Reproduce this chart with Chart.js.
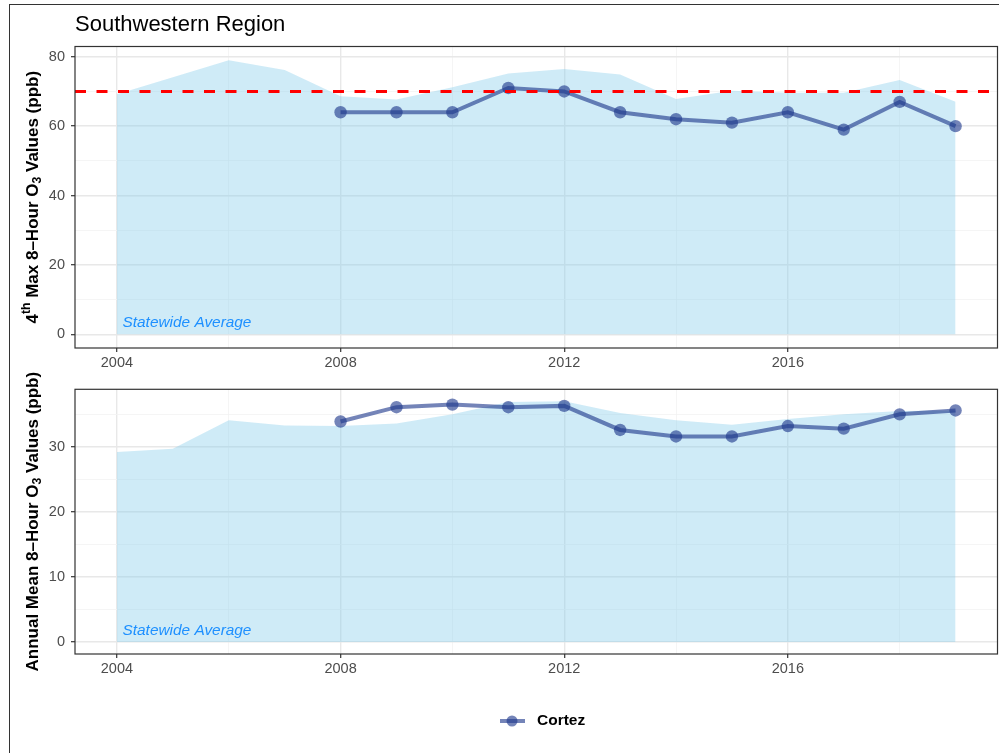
<!DOCTYPE html>
<html>
<head>
<meta charset="utf-8">
<script src="https://cdn.jsdelivr.net/npm/chart.js@4/dist/chart.umd.min.js"></script>
<style>
  html, body { margin: 0; padding: 0; background: #ffffff; overflow: hidden; }
  body { width: 999px; height: 753px; position: relative; }
  #frame { position: absolute; left: 9px; top: 4px; width: 1200px; height: 1000px; border: 1px solid #333333; box-sizing: border-box; }
  canvas { position: absolute; left: 0; }
  #top { top: 0; }
  #bottom { top: 370px; }
</style>
</head>
<body>
<div id="frame"></div>
<canvas id="top" width="999" height="375"></canvas>
<canvas id="bottom" width="999" height="383"></canvas>
<script>
// ---- data ----
const years = [2004, 2005, 2006, 2007, 2008, 2009, 2010, 2011, 2012, 2013, 2014, 2015, 2016, 2017, 2018, 2019];
const stateMax4th = [69.2, 74.1, 79.0, 76.2, 68.6, 67.7, 71.2, 75.2, 76.5, 74.9, 67.8, 70.2, 69.6, 69.6, 73.3, 67.0];
const stateAnnualMean = [29.2, 29.7, 34.1, 33.3, 33.2, 33.6, 35.0, 36.9, 37.0, 35.2, 34.1, 33.4, 34.3, 35.0, 35.5, 35.6];

const cortezYears = [2008, 2009, 2010, 2011, 2012, 2013, 2014, 2015, 2016, 2017, 2018, 2019];
const cortezMax4th = [64, 64, 64, 71, 70, 64, 62, 61, 64, 59, 67, 60];
const cortezAnnualMean = [33.9, 36.1, 36.5, 36.1, 36.3, 32.6, 31.6, 31.6, 33.2, 32.8, 35.0, 35.6];

const naaqsStandard = 70;
const xGridYears = [2004, 2006, 2008, 2010, 2012, 2014, 2016, 2018];
const topGridValues = [0, 10, 20, 30, 40, 50, 60, 70, 80];
const bottomGridValues = [0, 5, 10, 15, 20, 25, 30, 35];

const regionTitle = 'Southwestern Region';
const siteName = 'Cortez';
const annotationText = 'Statewide Average';

// ---- styling ----
const FONT = '"Liberation Sans", Arial, Helvetica, sans-serif';
Chart.defaults.font.family = FONT;
const FILL = 'rgba(135, 206, 235, 0.4)';
const SITE = 'rgba(31, 56, 140, 0.62)';
const AXIS_TEXT = '#4d4d4d';

// ggplot-style 5% expansion
const xMin = years[0] - 0.05 * (years[years.length - 1] - years[0]);
const xMax = years[years.length - 1] + 0.05 * (years[years.length - 1] - years[0]);
function yRange(vals) {
  const hi = Math.max(...vals), lo = 0;
  const pad = 0.05 * (hi - lo);
  return [lo - pad, hi + pad];
}

function pts(xs, ys) { return xs.map((x, i) => ({ x: x, y: ys[i] })); }

// ===============================================
// PLUGIN: panel border, titles, annotation, legend
// ===============================================
const panelPlugin = {
  id: 'panelDecor',
  afterDraw(chart, args, o) {
    const { ctx, chartArea: a, scales } = chart;
    ctx.save();

    // panel border
    ctx.strokeStyle = '#333333';
    ctx.lineWidth = 1.2;
    ctx.strokeRect(a.left, a.top, a.right - a.left, a.bottom - a.top);

    // statewide label
    ctx.fillStyle = '#1e90ff';
    ctx.font = 'italic 15.4px ' + FONT;
    ctx.textAlign = 'left';
    ctx.textBaseline = 'middle';
    ctx.fillText(annotationText, scales.x.getPixelForValue(o.annX), scales.y.getPixelForValue(o.annY));

    // main title
    if (o.title) {
      ctx.fillStyle = '#000000';
      ctx.font = '22px ' + FONT;
      ctx.textBaseline = 'alphabetic';
      ctx.fillText(o.title, a.left, o.titleBaseline);
    }

    // rotated y-axis title with sub/superscripts
    const size = 17;
    const parts = o.yTitle;
    const fontFor = p => 'bold ' + (p.s ? size * 0.72 : size) + 'px ' + FONT;
    let total = 0;
    parts.forEach(p => { ctx.font = fontFor(p); total += ctx.measureText(p.t).width; });
    ctx.translate(o.yTitleX, (a.top + a.bottom) / 2);
    ctx.rotate(-Math.PI / 2);
    ctx.fillStyle = '#000000';
    ctx.textBaseline = 'alphabetic';
    let cx = -total / 2;
    parts.forEach(p => {
      ctx.font = fontFor(p);
      const dy = p.s === 'sup' ? -size * 0.42 : p.s === 'sub' ? size * 0.22 : 0;
      ctx.fillText(p.t, cx, dy);
      cx += ctx.measureText(p.t).width;
    });
    ctx.setTransform(1, 0, 0, 1, 0, 0);

    // legend
    if (o.legendY) {
      const lx = o.legendX, ly = o.legendY;
      ctx.strokeStyle = SITE;
      ctx.lineWidth = 4;
      ctx.beginPath();
      ctx.moveTo(lx - 12, ly);
      ctx.lineTo(lx + 13, ly);
      ctx.stroke();
      ctx.fillStyle = SITE;
      ctx.beginPath();
      ctx.arc(lx, ly, 5.5, 0, Math.PI * 2);
      ctx.fill();
      ctx.fillStyle = '#000000';
      ctx.font = 'bold 15.5px ' + FONT;
      ctx.textBaseline = 'middle';
      ctx.fillText(siteName, lx + 25, ly);
    }
    ctx.restore();
  }
};

// ===============================================
// HELPER: build one panel
// ===============================================
function makePanel(canvasId, cfg) {
  const [yMin, yMax] = cfg.yRange;
  const datasets = [];
  if (cfg.hline !== undefined) {
    datasets.push({
      data: [{ x: xMin, y: cfg.hline }, { x: xMax, y: cfg.hline }],
      borderColor: '#ff0000', borderWidth: 3, borderDash: [11, 10.5],
      pointRadius: 0, fill: false, order: 0
    });
  }
  datasets.push({
    label: siteName,
    data: pts(cortezYears, cfg.site),
    borderColor: SITE, backgroundColor: SITE,
    borderWidth: 4, pointRadius: 6.2, pointBorderWidth: 0,
    fill: false, order: 1
  });
  datasets.push({
    data: pts(years, cfg.state),
    borderWidth: 0, borderColor: 'rgba(0,0,0,0)', backgroundColor: FILL,
    pointRadius: 0, fill: 'origin', order: 2
  });

  return new Chart(document.getElementById(canvasId).getContext('2d'), {
    type: 'line',
    data: { datasets },
    plugins: [panelPlugin],
    options: {
      responsive: false,
      animation: false,
      events: [],
      layout: { autoPadding: false, padding: { top: cfg.areaTop, right: 1.5, left: 0, bottom: 0 } },
      plugins: {
        legend: { display: false },
        tooltip: { enabled: false },
        panelDecor: cfg.decor
      },
      scales: {
        x: {
          type: 'linear', min: xMin, max: xMax,
          afterBuildTicks: s => { s.ticks = xGridYears.map(v => ({ value: v })); },
          afterFit: s => { s.height = cfg.xAxisHeight; s.paddingLeft = 0; s.paddingRight = 0; },
          ticks: {
            callback: v => (v % 4 === 0 ? String(v) : ''),
            color: AXIS_TEXT, font: { size: 14.5 }, padding: 2,
            maxRotation: 0, autoSkip: false
          },
          grid: {
            color: c => (c.tick && c.tick.value % 4 === 0 ? '#e8e8e8' : '#f3f3f3'),
            lineWidth: c => (c.tick && c.tick.value % 4 === 0 ? 1.4 : 0.8),
            tickColor: c => (c.tick && c.tick.value % 4 === 0 ? '#333333' : 'rgba(0,0,0,0)'),
            tickLength: 4, tickWidth: 1.2
          },
          border: { display: false }
        },
        y: {
          type: 'linear', min: yMin, max: yMax,
          afterBuildTicks: s => { s.ticks = cfg.yGrid.map(v => ({ value: v })); },
          afterFit: s => { s.width = 75; s.paddingTop = 0; s.paddingBottom = 0; },
          ticks: {
            callback: v => (v % cfg.yMajor === 0 ? String(v) : ''),
            color: AXIS_TEXT, font: { size: 14.5 }, padding: 6
          },
          grid: {
            color: c => (c.tick && c.tick.value % cfg.yMajor === 0 ? '#e8e8e8' : '#f3f3f3'),
            lineWidth: c => (c.tick && c.tick.value % cfg.yMajor === 0 ? 1.4 : 0.8),
            tickColor: c => (c.tick && c.tick.value % cfg.yMajor === 0 ? '#333333' : 'rgba(0,0,0,0)'),
            tickLength: 4, tickWidth: 1.2
          },
          border: { display: false }
        }
      }
    }
  });
}

// TOP: 4th max
makePanel('top', {
  state: stateMax4th, site: cortezMax4th, hline: naaqsStandard,
  yRange: yRange(stateMax4th.concat(cortezMax4th, [naaqsStandard])),
  yGrid: topGridValues, yMajor: 20,
  areaTop: 46.5, xAxisHeight: 27,
  decor: {
    title: regionTitle, titleBaseline: 31,
    annX: 2004.1, annY: 3.3, yTitleX: 37.5,
    yTitle: [{ t: '4' }, { t: 'th', s: 'sup' }, { t: ' Max 8\u2013Hour O' }, { t: '3', s: 'sub' }, { t: ' Values (ppb)' }]
  }
});

// BOTTOM: annual mean
makePanel('bottom', {
  state: stateAnnualMean, site: cortezAnnualMean,
  yRange: yRange(stateAnnualMean.concat(cortezAnnualMean)),
  yGrid: bottomGridValues, yMajor: 10,
  areaTop: 19.3, xAxisHeight: 99,
  decor: {
    annX: 2004.1, annY: 1.8, yTitleX: 37.5,
    legendX: 512, legendY: 351,
    yTitle: [{ t: 'Annual Mean 8\u2013Hour O' }, { t: '3', s: 'sub' }, { t: ' Values (ppb)' }]
  }
});
</script>
</body>
</html>
